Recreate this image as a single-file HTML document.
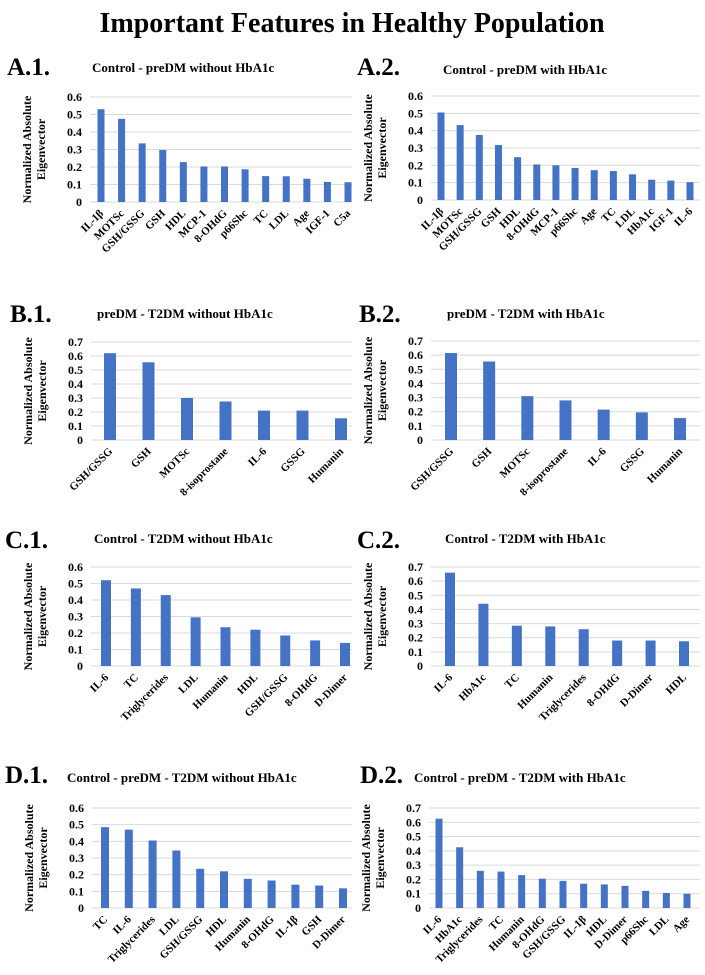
<!DOCTYPE html>
<html><head><meta charset="utf-8">
<style>
html,body{margin:0;padding:0;background:#fff;}
svg{display:block;font-family:"Liberation Serif",serif;font-weight:bold;}
</style></head>
<body>
<svg id="fig" width="705" height="975" viewBox="0 0 705 975" xmlns="http://www.w3.org/2000/svg">
<text x="352" y="32" text-anchor="middle" font-size="28">Important Features in Healthy Population</text>
</svg>
<script>
const catsA1=["IL-1β","MOTSc","GSH/GSSG","GSH","HDL","MCP-1","8-OHdG","p66Shc","TC","LDL","Age","IGF-1","C5a"];
const valsA1=[0.53,0.475,0.335,0.297,0.228,0.203,0.203,0.187,0.148,0.147,0.133,0.115,0.113];
const catsA2=["IL-1β","MOTSc","GSH/GSSG","GSH","HDL","8-OHdG","MCP-1","p66Shc","Age","TC","LDL","HbA1c","IGF-1","IL-6"];
const valsA2=[0.505,0.432,0.375,0.317,0.247,0.205,0.2,0.185,0.172,0.167,0.148,0.117,0.112,0.103];
const catsB1=["GSH/GSSG","GSH","MOTSc","8-isoprostane","IL-6","GSSG","Humanin"];
const valsB1=[0.62,0.555,0.30,0.275,0.21,0.21,0.155];
const catsB2=["GSH/GSSG","GSH","MOTSc","8-isoprostane","IL-6","GSSG","Humanin"];
const valsB2=[0.615,0.555,0.31,0.28,0.215,0.195,0.155];
const catsC1=["IL-6","TC","Triglycerides","LDL","Humanin","HDL","GSH/GSSG","8-OHdG","D-Dimer"];
const valsC1=[0.52,0.47,0.43,0.295,0.235,0.22,0.185,0.155,0.14];
const catsC2=["IL-6","HbA1c","TC","Humanin","Triglycerides","8-OHdG","D-Dimer","HDL"];
const valsC2=[0.66,0.44,0.285,0.28,0.26,0.18,0.18,0.175];
const catsD1=["TC","IL-6","Triglycerides","LDL","GSH/GSSG","HDL","Humanin","8-OHdG","IL-1β","GSH","D-Dimer"];
const valsD1=[0.485,0.47,0.405,0.345,0.235,0.22,0.175,0.165,0.14,0.135,0.118];
const catsD2=["IL-6","HbA1c","Triglycerides","TC","Humanin","8-OHdG","GSH/GSSG","IL-1β","HDL","D-Dimer","p66Shc","LDL","Age"];
const valsD2=[0.625,0.425,0.26,0.255,0.23,0.205,0.19,0.17,0.165,0.155,0.12,0.105,0.1];
const ticks6=["0","0.1","0.2","0.3","0.4","0.5","0.6"];
const ticks7=["0","0.1","0.2","0.3","0.4","0.5","0.6","0.7"];

const NS="http://www.w3.org/2000/svg";
const svg=document.getElementById('fig');
function mk(tag,attrs,parent){const e=document.createElementNS(NS,tag);for(const k in attrs)e.setAttribute(k,attrs[k]);(parent||svg).appendChild(e);return e;}

const panels=[
 {id:"a1",lab:"A.1.",title:"Control - preDM without HbA1c",cats:catsA1,vals:valsA1,ticks:ticks6,L:90,R:352,top:97,zero:202,first:101,last:348,bw:7,lx:7,ly:75,tx:92,ty:72},
 {id:"a2",lab:"A.2.",title:"Control - preDM with HbA1c",cats:catsA2,vals:valsA2,ticks:ticks6,L:431,R:700,top:96,zero:200,first:441,last:690,bw:7,lx:357,ly:75,tx:443,ty:74},
 {id:"b1",lab:"B.1.",title:"preDM - T2DM without HbA1c",cats:catsB1,vals:valsB1,ticks:ticks7,L:91,R:352,top:342,zero:440,first:110,last:341,bw:12,lx:10,ly:322,tx:97,ty:318},
 {id:"b2",lab:"B.2.",title:"preDM - T2DM with HbA1c",cats:catsB2,vals:valsB2,ticks:ticks7,L:431,R:700,top:341,zero:440,first:451,last:680,bw:12,lx:359,ly:322,tx:447,ty:318},
 {id:"c1",lab:"C.1.",title:"Control - T2DM without HbA1c",cats:catsC1,vals:valsC1,ticks:ticks6,L:91,R:352,top:567,zero:666,first:106,last:345,bw:10,lx:5,ly:548,tx:94,ty:543},
 {id:"c2",lab:"C.2.",title:"Control - T2DM with HbA1c",cats:catsC2,vals:valsC2,ticks:ticks7,L:431,R:700,top:567,zero:666,first:450,last:684,bw:10,lx:357,ly:548,tx:445,ty:543},
 {id:"d1",lab:"D.1.",title:"Control - preDM - T2DM without HbA1c",cats:catsD1,vals:valsD1,ticks:ticks6,L:92,R:352,top:808,zero:908,first:105,last:343,bw:8,lx:5,ly:783,tx:67,ty:782},
 {id:"d2",lab:"D.2.",title:"Control - preDM - T2DM with HbA1c",cats:catsD2,vals:valsD2,ticks:ticks7,L:429,R:700,top:808,zero:908,first:439,last:687,bw:7,lx:360,ly:783,tx:414,ty:782}
];

panels.forEach(p=>{
  const g=mk('g',{});
  
  
  const maxV=(p.ticks.length-1)*0.1;
  const y=v=>p.zero-(v/maxV)*(p.zero-p.top);
  const n=p.cats.length;
  const x=i=>p.first+i*(p.last-p.first)/(n-1);
  const pl=mk('text',{x:p.lx,y:p.ly,'font-size':25},g);pl.textContent=p.lab;
  
  
  const ti=mk('text',{x:p.tx,y:p.ty,'font-size':13},g);ti.textContent=p.title;
  
  
  p.ticks.forEach((t,i)=>{
    const v=parseFloat(t);const yy=y(v);
    const ln=mk('line',{x1:p.L,x2:p.R,y1:yy,y2:yy,stroke:'#d9d9d9','stroke-width':1},g);
    
    
    const tx=mk('text',{x:p.L-8,y:yy+4,'font-size':12,'text-anchor':'end'},g);tx.textContent=t;
    
    
  });
  const cy=(p.top+p.zero)/2, cx=p.L-56;
  const yt=mk('text',{transform:`translate(${cx},${cy}) rotate(-90)`,'font-size':12,'text-anchor':'middle'},g);
  
  
  const s1=mk('tspan',{x:0,y:-3},yt);s1.textContent="Normalized Absolute";
  const s2=mk('tspan',{x:0,y:11},yt);s2.textContent="Eigenvector";
  p.vals.forEach((v,i)=>{
    const r=mk('rect',{x:x(i)-p.bw/2,y:y(v),width:p.bw,height:p.zero-y(v),fill:'#4472c4'},g);
    
    
    const lx=x(i)+3, ly=p.zero+12;
    const t=mk('text',{transform:`translate(${lx},${ly}) rotate(-45)`,'font-size':11,'text-anchor':'end'},g);
    t.textContent=p.cats[i];
    
    
  });
});
</script>
</body></html>
